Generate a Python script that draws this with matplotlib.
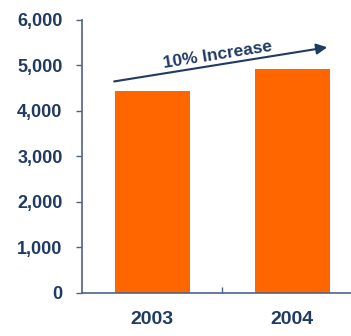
import matplotlib.pyplot as plt
from matplotlib.ticker import FuncFormatter

# Data
years = ['2003', '2004']
values = [4450, 4920]
yticks = [0, 1000, 2000, 3000, 4000, 5000, 6000]

navy = '#1f3a63'
orange = '#ff6600'
axis_col = '#4d6488'

plt.rcParams['font.family'] = ['Liberation Sans', 'DejaVu Sans']

fig = plt.figure(figsize=(3.51, 3.36), dpi=100)
ax = fig.add_axes([0.2336, 0.128, 0.7664, 0.8125])

x = range(len(years))
ax.bar(x, values, width=0.535, color=orange, zorder=2)

ax.set_ylim(0, 6000)
ax.set_xlim(-0.5, 1.42)
ax.set_yticks(yticks)
ax.yaxis.set_major_formatter(FuncFormatter(lambda v, p: f'{int(v):,}'))
ax.tick_params(axis='y', direction='out', length=4, width=1, color=axis_col,
               labelsize=13, labelcolor=navy, pad=10)
for lbl in ax.get_yticklabels():
    lbl.set_fontweight('bold')

# x axis: one small tick between the categories, labels placed below
ax.set_xticks([0.5])
ax.set_xticklabels([''])
ax.tick_params(axis='x', direction='in', length=4, width=1, color=axis_col)
for i, yr in enumerate(years):
    ax.text(i, -0.065, yr, transform=ax.get_xaxis_transform(), ha='center', va='top',
            fontsize=14, fontweight='bold', color=navy)

for s in ['top', 'right']:
    ax.spines[s].set_visible(False)
for s in ['left', 'bottom']:
    ax.spines[s].set_color(axis_col)
    ax.spines[s].set_linewidth(1.2)

# trend arrow with label
ax.annotate('', xy=(1.27, 5410), xytext=(-0.29, 4640),
            arrowprops=dict(arrowstyle='-|>', color=navy, lw=1.5, mutation_scale=16))
ax.text(0.47, 5230, '10% Increase', rotation=9, ha='center', va='center',
        fontsize=12.5, fontweight='bold', color=navy, rotation_mode='anchor')

fig.savefig('out.png', dpi=100)
